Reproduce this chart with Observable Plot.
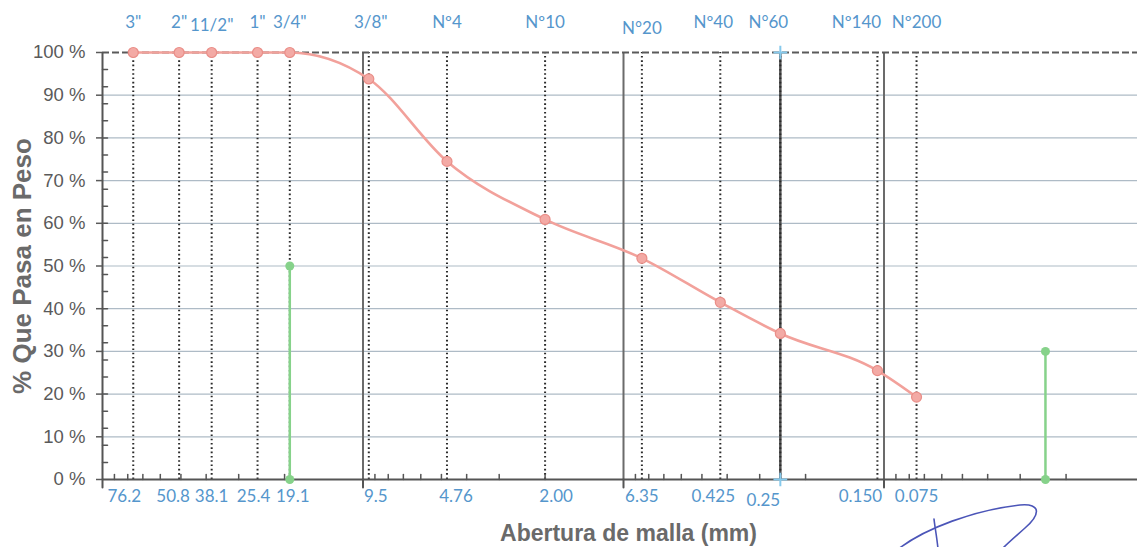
<!DOCTYPE html>
<html>
<head>
<meta charset="utf-8">
<script src="https://cdn.jsdelivr.net/npm/d3@7"></script>
<script src="https://cdn.jsdelivr.net/npm/@observablehq/plot@0.6"></script>
<style>
  html, body { margin: 0; padding: 0; background: #fff; overflow: hidden; }
  #chart svg { max-width: none !important; }
</style>
</head>
<body>
<div id="chart"></div>
<script>
// Sieve series: name, opening (mm) used for placement, printed opening and % passing
const sieveNames = ['3"', '2"', '11/2"', '1"', '3/4"', '3/8"', 'Nº4', 'Nº10', 'N°20', 'Nº40', 'N°60', 'Nº140', 'Nº200'];
const sieveOpenings = [76.2, 50.8, 38.1, 25.4, 19.1, 9.5, 4.76, 2.00, 0.85, 0.425, 0.25, 0.106, 0.075];
const openingLabels = ["76.2", "50.8", "38.1", "25.4", "19.1", "9.5", "4.76", "2.00", "6.35", "0.425", "0.25", "0.150", "0.075"];
const percentPassing = [100, 100, 100, 100, 100, 93.8, 74.5, 60.9, 51.8, 41.5, 34.2, 25.5, 19.3];

// Reference verticals (green markers) and the N°60 guide
const markerOpenings = [19.1, 0.024];
const markerHeights = [50, 30];
const guideOpening = [0.25];
const guideEnds = [0, 100];

// Axis ticks
const yTicks = [0, 10, 20, 30, 40, 50, 60, 70, 80, 90, 100];
const yMinorTicks = d3.range(4, 100, 4);
const decadeLines = [10, 1, 0.1];
const xMajorTicks = [100, 10, 1, 0.1, 0.01];
const xMinorTicks = [10, 1, 0.1, 0.01].flatMap(d => d3.range(2, 10).map(k => k * d));

const xTitle = "Abertura de malla (mm)";
const yTitle = "% Que Pasa en Peso";

const points = sieveOpenings.map((x, i) => ({x, y: percentPassing[i], name: sieveNames[i], label: openingLabels[i]}));

const blue = "#5596cc";
const labelFont = "Lato, 'Open Sans', sans-serif";

// small hand-placed offsets for the name/opening text boxes
const topNudge = {'11/2"': {dy: 3}, '3/8"': {dx: 2}, 'N°20': {dy: 6}, 'Nº40': {dx: -7}, 'N°60': {dx: -12}, 'Nº140': {dx: -21}};
const bottomNudge = {"76.2": {dx: -9}, "50.8": {dx: -6}, "25.4": {dx: -4}, "19.1": {dx: 3}, "9.5": {dx: 7}, "4.76": {dx: 9},
  "2.00": {dx: 11}, "0.425": {dx: -7}, "0.25": {dx: -17, dy: 4}, "0.150": {dx: -17}};

// vertical tick glyph for Plot.vector
const tickShape = {draw(context, l) { context.moveTo(0, 0); context.lineTo(0, -l); }};

const topLabelMarks = points.map(p => {
  const n = topNudge[p.name] || {};
  return Plot.text([p], {x: "x", text: "name", frameAnchor: "top", lineAnchor: "middle", textAnchor: "middle",
    dy: -30 + (n.dy || 0), dx: n.dx || 0, fill: blue, fontSize: 17, fontFamily: labelFont});
});
const bottomLabelMarks = points.map(p => {
  const n = bottomNudge[p.label] || {};
  return Plot.text([p], {x: "x", text: "label", frameAnchor: "bottom", lineAnchor: "middle", textAnchor: "middle",
    dy: 17 + (n.dy || 0), dx: n.dx || 0, fill: blue, fontSize: 17, fontFamily: labelFont});
});

const chart = Plot.plot({
  width: 1145,
  height: 547,
  marginLeft: 102,
  marginRight: 1,
  marginTop: 52,
  marginBottom: 68,
  x: {type: "log", domain: [100, 0.01], axis: null},
  y: {domain: [0, 100]},
  style: {fontFamily: "'Liberation Sans', Arial, sans-serif", background: "#fff", overflow: "visible", maxWidth: "none"},
  marks: [
    // horizontal grid
    Plot.ruleY(yTicks.filter(d => d > 0 && d < 100), {stroke: "#aebbc6", strokeWidth: 1.2}),
    // decade lines and N°60 guide
    Plot.ruleX(decadeLines, {y1: 0, y2: 100, stroke: "#6b6b6b", strokeWidth: 2}),
    Plot.ruleX(guideOpening, {y1: 0, y2: 100, stroke: "#505050", strokeWidth: 2.5}),
    // dotted lines at each sieve
    Plot.ruleX(points, {x: "x", y1: 0, y2: 100, stroke: "#2a2a2a", strokeWidth: 2, strokeDasharray: "1.6,2.7"}),
    // top dashed border
    Plot.ruleY([100], {stroke: "#5a5a5a", strokeWidth: 2, strokeDasharray: "7,3"}),
    // axis lines
    Plot.ruleX([100], {y1: 0, y2: 100, stroke: "#555", strokeWidth: 2}),
    Plot.ruleY([0], {stroke: "#555", strokeWidth: 2}),
    // y axis with minor ticks inside
    Plot.axisY({ticks: yTicks, tickFormat: d => `${d} %`, tickSize: 6, tickPadding: 11, fontSize: 18.5,
      color: "#5a5a5a", strokeWidth: 1.5, label: null}),
    Plot.vector(yMinorTicks, {y: d => d, frameAnchor: "left", rotate: 90, length: 5, anchor: "start",
      shape: tickShape, stroke: "#555", strokeWidth: 1.5}),
    // x axis ticks: minor up, major down
    Plot.vector(xMinorTicks, {x: d => d, frameAnchor: "bottom", rotate: 0, length: 5, anchor: "start",
      shape: tickShape, stroke: "#555", strokeWidth: 1.5}),
    Plot.vector(xMajorTicks, {x: d => d, frameAnchor: "bottom", rotate: 180, length: 8, anchor: "start",
      shape: tickShape, stroke: "#555", strokeWidth: 2}),
    // green reference markers
    Plot.ruleX(markerOpenings, {x: d => d, y1: 0, y2: (d, i) => markerHeights[i], stroke: "#86d28a", strokeWidth: 2.5}),
    Plot.dot(markerOpenings, {x: d => d, y: 0, r: 4.5, fill: "#86d28a"}),
    Plot.dot(markerOpenings, {x: d => d, y: (d, i) => markerHeights[i], r: 4.5, fill: "#86d28a"}),
    // N°60 guide ends
    Plot.dot(guideEnds, {x: () => guideOpening[0], y: d => d, symbol: "plus", r: 4.5, stroke: "#86c9ec", strokeWidth: 2}),
    // grading curve
    Plot.line(points, {x: "x", y: "y", curve: "monotone-x", stroke: "#f2a19b", strokeWidth: 2.6}),
    Plot.dot(points, {x: "x", y: "y", r: 5, fill: "#f3aaa5", stroke: "#ea8e88", strokeWidth: 1.2}),
    // sieve names and openings
    ...topLabelMarks,
    ...bottomLabelMarks,
    // axis titles
    Plot.text([yTitle], {frameAnchor: "left", textAnchor: "middle", lineAnchor: "middle", dx: -80, rotate: -90,
      fontSize: 26, fontWeight: "bold", fill: "#6a6a6a"}),
    Plot.text([xTitle], {frameAnchor: "bottom", textAnchor: "middle", lineAnchor: "middle", dy: 54, dx: 5,
      fontSize: 23, fontWeight: "bold", fill: "#6a6a6a"})
  ]
});

// signature
const sig = d3.select(chart).append("g").attr("fill", "none").attr("stroke", "#4b55b8").attr("stroke-width", 1.6)
  .attr("stroke-linecap", "round");
sig.append("path").attr("d", "M 897 550 C 925 528, 975 510, 1020 505 C 1042 503, 1040 515, 1025 528 C 1015 537, 1008 543, 1002 549");
sig.append("path").attr("d", "M 934 519 C 935 528, 937 538, 938 549");

document.getElementById("chart").appendChild(chart);
</script>
</body>
</html>
